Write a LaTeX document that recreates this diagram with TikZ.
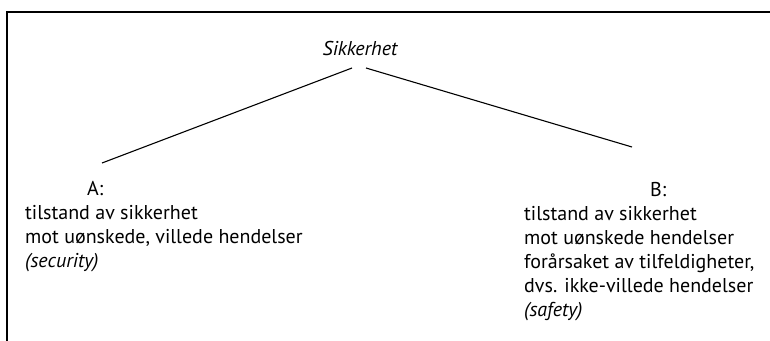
\documentclass[tikz,border=0pt]{standalone}
\usepackage{fontspec}
\setmainfont{PT Sans}
\begin{document}
\begin{tikzpicture}[x=1pt,y=-1pt,
  txt/.style={inner sep=0pt,anchor=base west,font=\fontsize{20}{24}\selectfont},
  ttl/.style={inner sep=0pt,anchor=base,font=\fontsize{20}{24}\selectfont\itshape},
  frame/.style={line width=1.6pt,black},
  branch/.style={line width=1.1pt,black}]
\useasboundingbox (0,0) rectangle (770,340);
% frame (top and left edges)
\coordinate (fbl) at (7,341);
\coordinate (ftl) at (7,12);
\coordinate (ftr) at (771,12);
\draw[frame] (fbl) -- (ftl) -- (ftr);
% title
\node[ttl] (top) at (360,55) {Sikkerhet};
% branch ends
\coordinate (tl) at (352,68);
\coordinate (tr) at (366,68);
\coordinate (al) at (102,163);
\coordinate (br) at (632,147);
\draw[branch] (tl) -- (al);
\draw[branch] (tr) -- (br);
% A column
\node[txt] (alab) at (87,195) {A:};
\node[txt] (a1) at (25,219) {tilstand av sikkerhet};
\node[txt] (a2) at (25,243) {mot uønskede, villede hendelser};
\node[txt] (a3) at (25,267) {\itshape (security)};
% B column
\node[txt] (blab) at (650,196) {B:};
\node[txt] (b1) at (524,220) {tilstand av sikkerhet};
\node[txt] (b2) at (524,244) {mot uønskede hendelser};
\node[txt] (b3) at (524,268) {forårsaket av tilfeldigheter,};
\node[txt] (b4) at (524,292) {dvs. ikke-villede hendelser};
\node[txt] (b5) at (524,316) {\itshape (safety)};
\end{tikzpicture}
\end{document}
